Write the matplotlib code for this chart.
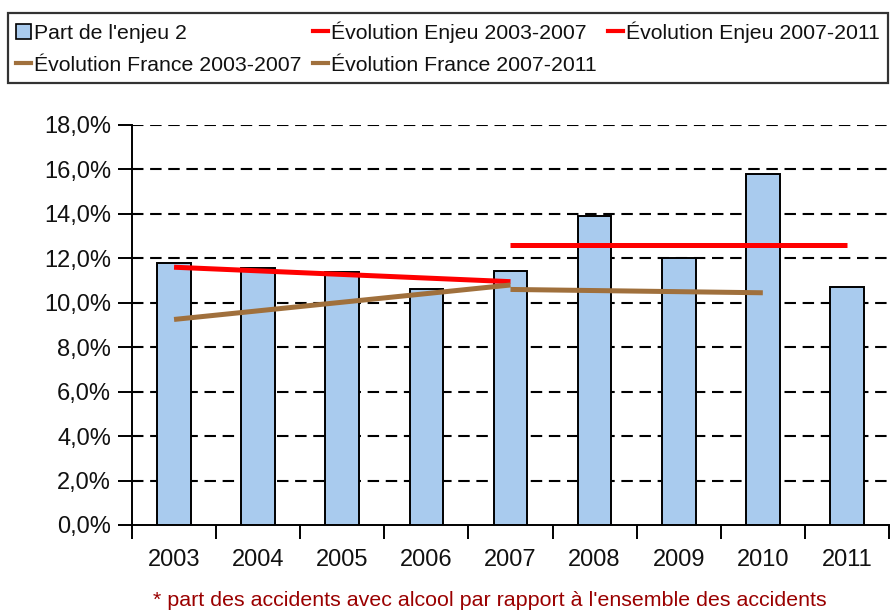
import matplotlib
matplotlib.use("Agg")
import matplotlib.pyplot as plt
from matplotlib.patches import Rectangle
from matplotlib.lines import Line2D

plt.rcParams['font.family'] = ['Liberation Sans', 'DejaVu Sans']

# Data
years = ["2003", "2004", "2005", "2006", "2007", "2008", "2009", "2010", "2011"]
part_enjeu = [11.8, 11.55, 11.4, 10.6, 11.45, 13.9, 12.0, 15.8, 10.7]

# Trend segments: (start year, end year) and (start value, end value)
enjeu_0307_years = ["2003", "2007"]
enjeu_0307_vals = [11.6, 10.95]
enjeu_0711_years = ["2007", "2011"]
enjeu_0711_vals = [12.6, 12.6]
france_0307_years = ["2003", "2007"]
france_0307_vals = [9.25, 10.8]
france_0711_years = ["2007", "2010"]
france_0711_vals = [10.6, 10.45]

y_ticks = [0, 2, 4, 6, 8, 10, 12, 14, 16, 18]
y_tick_labels = ["0,0%", "2,0%", "4,0%", "6,0%", "8,0%", "10,0%", "12,0%",
                 "14,0%", "16,0%", "18,0%"]

legend_labels = ["Part de l'enjeu 2", "Évolution Enjeu 2003-2007",
                 "Évolution Enjeu 2007-2011", "Évolution France 2003-2007",
                 "Évolution France 2007-2011"]
footnote = "* part des accidents avec alcool par rapport à l'ensemble des accidents"

bar_color = "#A9CBEE"
red = "#FF0000"
brown = "#A0703C"

W, H = 891, 610
fig = plt.figure(figsize=(W / 100, H / 100), dpi=100)
ax = fig.add_axes([132 / W, 1 - 525 / H, (889 - 132) / W, 400 / H])

xpos = {y: i for i, y in enumerate(years)}
ax.bar(range(len(years)), part_enjeu, width=0.4, color=bar_color,
       edgecolor="black", linewidth=1.4, zorder=3)

lw = 3.6
ax.plot([xpos[y] for y in enjeu_0307_years], enjeu_0307_vals, color=red,
        lw=lw, zorder=4, solid_capstyle="butt")
ax.plot([xpos[y] for y in enjeu_0711_years], enjeu_0711_vals, color=red,
        lw=lw, zorder=4, solid_capstyle="butt")
ax.plot([xpos[y] for y in france_0307_years], france_0307_vals, color=brown,
        lw=lw, zorder=4, solid_capstyle="butt")
ax.plot([xpos[y] for y in france_0711_years], france_0711_vals, color=brown,
        lw=lw, zorder=4, solid_capstyle="butt")

ax.set_xlim(-0.5, len(years) - 0.5)
ax.set_ylim(0, 18)
ax.set_yticks(y_ticks)
ax.set_yticklabels(y_tick_labels)
ax.set_xticks([i - 0.5 for i in range(len(years) + 1)])
ax.set_xticklabels([])
ax.set_xticks(range(len(years)), minor=True)
ax.set_xticklabels(years, minor=True)
ax.tick_params(axis="x", which="major", direction="out", length=10, width=1.4)
ax.tick_params(axis="x", which="minor", length=0, pad=17, labelsize=17,
               colors="#111111")
ax.tick_params(axis="y", direction="out", length=10, width=1.4, pad=5,
               labelsize=17, labelcolor="#111111")

for s in ["top", "right"]:
    ax.spines[s].set_visible(False)
for s in ["left", "bottom"]:
    ax.spines[s].set_linewidth(1.4)

for v in y_ticks[1:]:
    ax.axhline(v, color="black", lw=1.5, linestyle=(0, (5.5, 3.2)), zorder=1)

handles = [
    Rectangle((0, 0), 1, 1, facecolor=bar_color, edgecolor="black", lw=1.2),
    Line2D([], [], color=brown, lw=3),
    Line2D([], [], color=red, lw=3),
    Line2D([], [], color=brown, lw=3),
    Line2D([], [], color=red, lw=3),
]
labels = [legend_labels[0], legend_labels[3], legend_labels[1],
          legend_labels[4], legend_labels[2]]
leg = fig.legend(handles, labels, ncol=3, loc="upper left",
                 bbox_to_anchor=(8 / W, 1 - 13 / H, 880 / W, 0),
                 mode="expand", fontsize=15.3, handlelength=0.7,
                 handleheight=0.7, handletextpad=0.15, labelspacing=0.62,
                 borderpad=0.38, borderaxespad=0, frameon=True,
                 fancybox=False, edgecolor="black")
leg.get_frame().set_linewidth(1.6)
for t in leg.get_texts():
    t.set_color("#111111")

fig.text(490 / W, 1 - 600 / H, footnote, color="#9A0000", fontsize=15.4,
         ha="center", va="center")

fig.savefig("out.png", dpi=100)
